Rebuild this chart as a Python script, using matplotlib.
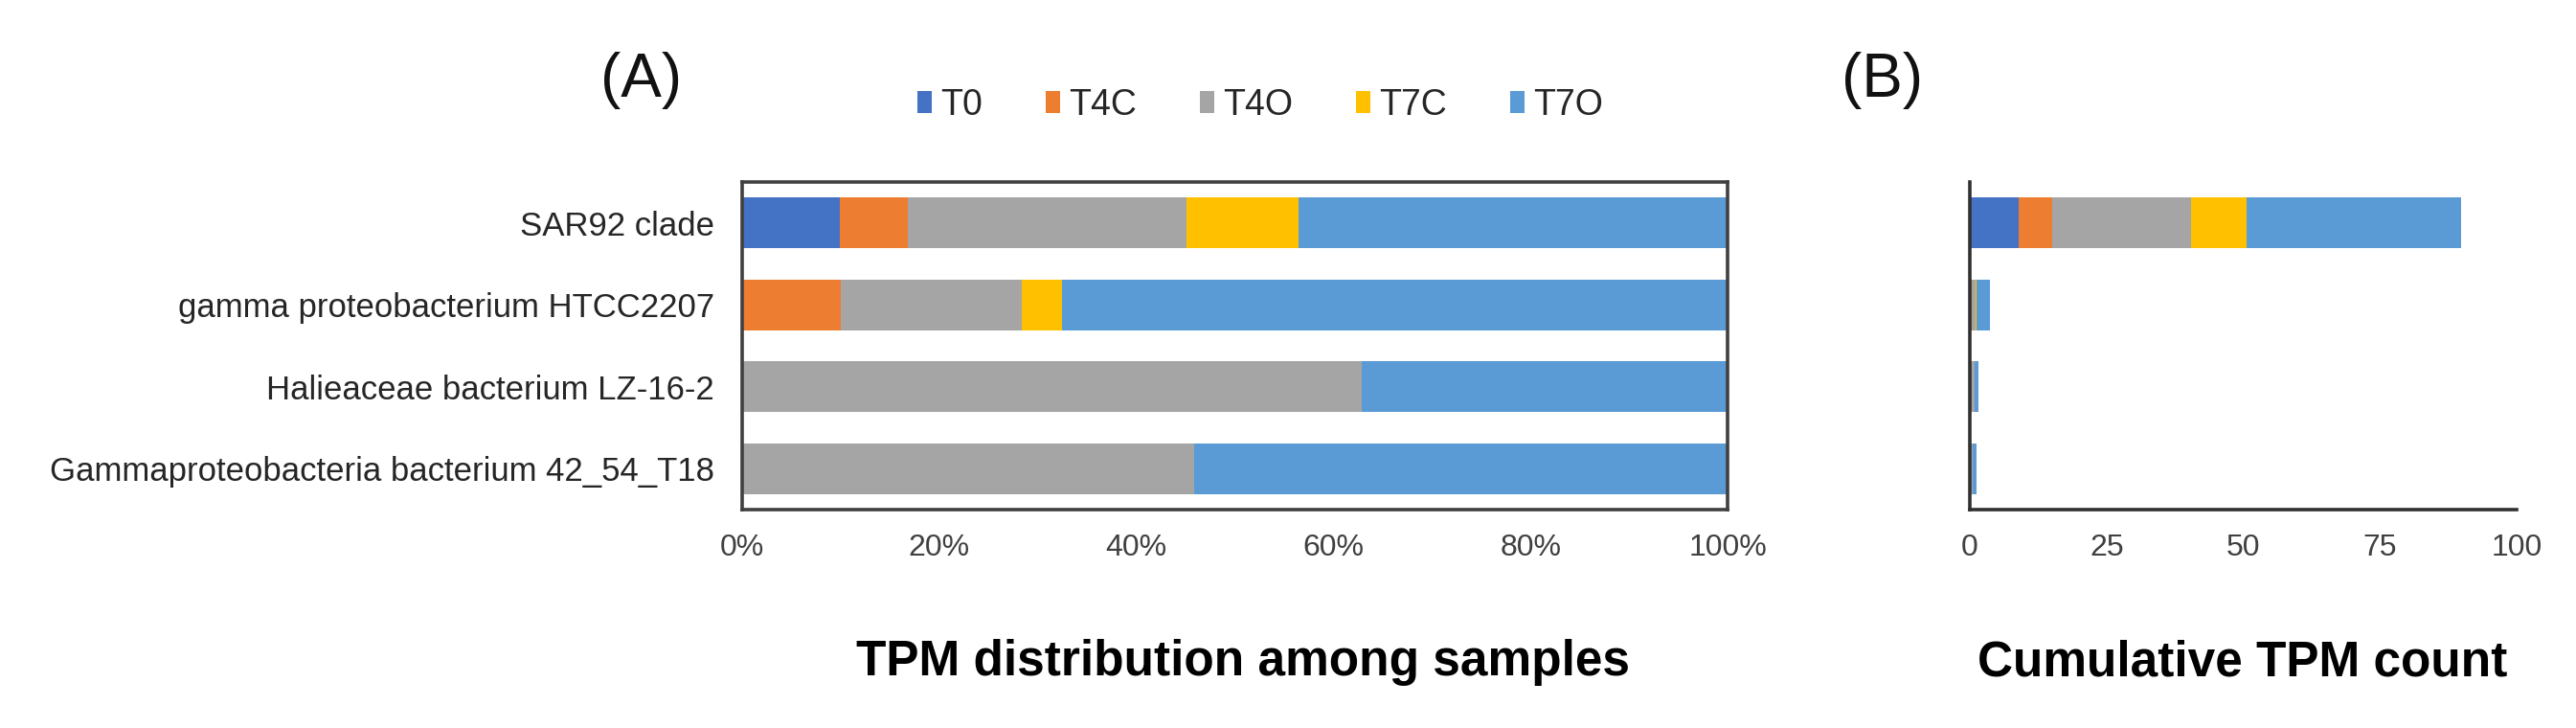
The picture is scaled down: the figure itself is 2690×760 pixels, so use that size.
import matplotlib
matplotlib.use("Agg")
import matplotlib.pyplot as plt
import numpy as np
from matplotlib.patches import Patch

plt.rcParams['font.family'] = ['Liberation Sans', 'DejaVu Sans']

# ---- data ----
categories = ["SAR92 clade",
              "gamma proteobacterium HTCC2207",
              "Halieaceae bacterium LZ-16-2",
              "Gammaproteobacteria bacterium 42_54_T18"]
samples = ["T0", "T4C", "T4O", "T7C", "T7O"]
colors = ["#4472C4", "#ED7D31", "#A5A5A5", "#FFC000", "#5B9BD5"]

# TPM per sample (rows follow categories)
tpm_T0 = [8.9, 0.0, 0.0, 0.0]
tpm_T4C = [6.2, 0.36, 0.0, 0.0]
tpm_T4O = [25.4, 0.66, 0.95, 0.55]
tpm_T7C = [10.2, 0.15, 0.0, 0.0]
tpm_T7O = [39.1, 2.43, 0.56, 0.65]

series = [tpm_T0, tpm_T4C, tpm_T4O, tpm_T7C, tpm_T7O]
data = np.array(series, dtype=float)          # shape (5, 4)
totals = data.sum(axis=0)
pct = data / totals * 100.0

W, H = 2690, 760
fig = plt.figure(figsize=(W / 100, H / 100), dpi=100)

axA = fig.add_axes([775 / W, 1 - 532 / H, (1804 - 775) / W, (532 - 190) / H])
axB = fig.add_axes([2057 / W, 1 - 532 / H, (2628 - 2057) / W, (532 - 190) / H])

y = np.arange(len(categories))
bh = 0.625

leftA = np.zeros(len(categories))
leftB = np.zeros(len(categories))
for i, name in enumerate(samples):
    axA.barh(y, pct[i], left=leftA, height=bh, color=colors[i], label=name)
    axB.barh(y, data[i], left=leftB, height=bh, color=colors[i])
    leftA += pct[i]
    leftB += data[i]

tick_color = "#404040"
fs_tick = 23

# Panel A
axA.set_xlim(0, 100)
axA.set_ylim(3.5, -0.5)
axA.set_yticks(y)
axA.set_yticklabels(categories, fontsize=25, color="#262626")
axA.set_xticks([0, 20, 40, 60, 80, 100])
axA.set_xticklabels(["0%", "20%", "40%", "60%", "80%", "100%"], fontsize=fs_tick, color=tick_color)
axA.tick_params(axis='x', length=0, pad=18)
axA.tick_params(axis='y', length=0, pad=21)
for s in axA.spines.values():
    s.set_linewidth(2.6)
    s.set_color("#404040")

# Panel B
axB.set_xlim(0, 100)
axB.set_ylim(3.5, -0.5)
axB.set_yticks([])
axB.set_xticks([0, 25, 50, 75, 100])
axB.set_xticklabels(["0", "25", "50", "75", "100"], fontsize=fs_tick, color=tick_color)
axB.tick_params(axis='x', length=0, pad=18)
axB.spines['top'].set_visible(False)
axB.spines['right'].set_visible(False)
for k in ('left', 'bottom'):
    axB.spines[k].set_linewidth(2.6)
    axB.spines[k].set_color("#303030")

# Panel letters
fig.text(670 / W, 1 - 84 / H, "(A)", fontsize=46, ha='center', va='center', color="#111111")
fig.text(1966 / W, 1 - 84 / H, "(B)", fontsize=46, ha='center', va='center', color="#111111")

# Bottom titles
fig.text(1298 / W, 1 - 692 / H, "TPM distribution among samples", fontsize=37,
         fontweight='bold', ha='center', va='center', color="black")
fig.text(2342 / W, 1 - 692 / H, "Cumulative TPM count", fontsize=37,
         fontweight='bold', ha='center', va='center', color="black")

# Legend
handles = [Patch(facecolor=c, edgecolor='none') for c in colors]
fig.legend(handles, samples, loc='center', bbox_to_anchor=(1316 / W, 1 - 110 / H),
           ncol=5, frameon=False, fontsize=27, handlelength=0.4, handleheight=0.55,
           handletextpad=0.25, columnspacing=1.75, labelcolor="#262626")

fig.savefig("out.png", dpi=100)
